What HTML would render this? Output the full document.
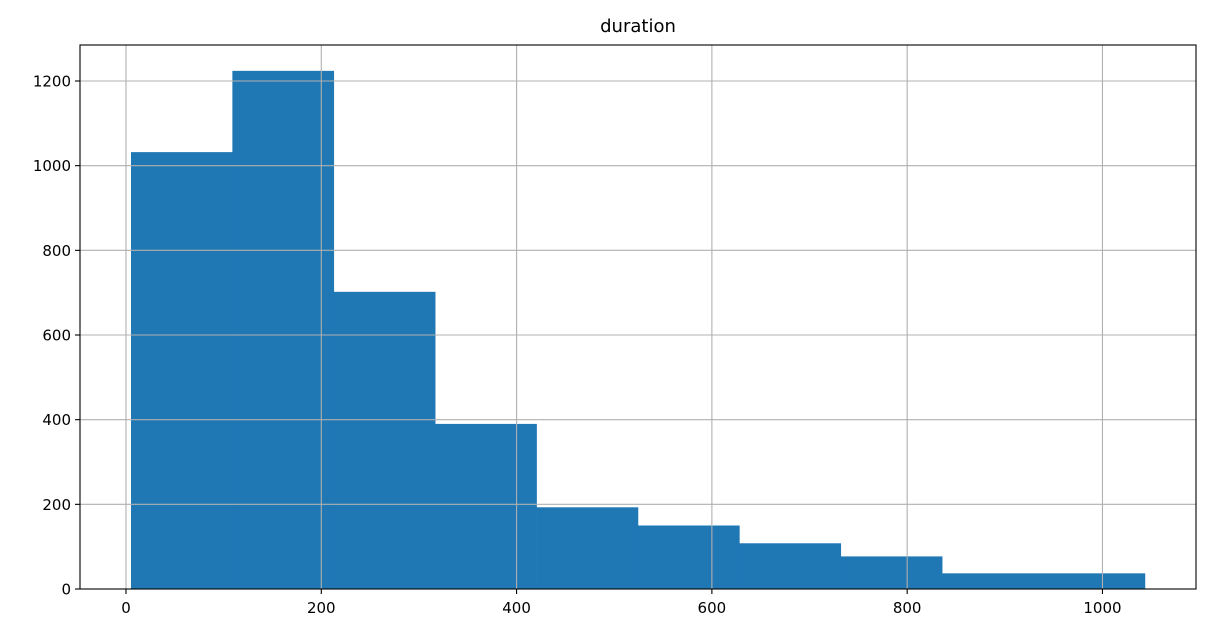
<!DOCTYPE html>
<html><head><meta charset="utf-8"><style>
html,body{margin:0;padding:0;background:#fff;}
svg text{font-family:"DejaVu Sans","Liberation Sans",sans-serif;fill:#000;}
</style></head><body>
<svg id="chart" width="1210" height="636" viewBox="0 0 1210 636"></svg>
<script>
const binStart = 5.1;
const binEnd = 1043.5;
const counts = [1032, 1224, 702, 390, 193, 150, 108, 77, 37, 37];
const xTicks = [0, 200, 400, 600, 800, 1000];
const yTicks = [0, 200, 400, 600, 800, 1000, 1200];
const title = "duration";

const L=80,R=1196,T=45,B=589;
const sx = v => 126 + v*0.97646;
const sy = v => 589 - v*0.42333;
const NS="http://www.w3.org/2000/svg";
const svg=document.getElementById('chart');
function mk(tag,attrs){const e=document.createElementNS(NS,tag);for(const k in attrs)e.setAttribute(k,attrs[k]);svg.appendChild(e);return e;}

const w=(binEnd-binStart)/counts.length;
counts.forEach((c,i)=>{
  const x0=sx(binStart+i*w), x1=sx(binStart+(i+1)*w);
  const r=mk('rect',{x:x0,y:sy(c),width:x1-x0+0.3,height:sy(0)-sy(c),fill:'#1f77b4'});
  
  
});
xTicks.forEach(t=>{
  const x=sx(t);
  const g=mk('line',{x1:x,x2:x,y1:T,y2:B,stroke:'#b0b0b0','stroke-width':1.1});
  
  
  mk('line',{x1:x,x2:x,y1:B,y2:B+5,stroke:'#000','stroke-width':1.1});
  const tx=mk('text',{x:x,y:B+24,'text-anchor':'middle','font-size':15});
  tx.textContent=t;
  
  
});
yTicks.forEach(t=>{
  const y=sy(t);
  const g=mk('line',{x1:L,x2:R,y1:y,y2:y,stroke:'#b0b0b0','stroke-width':1.1});
  
  
  mk('line',{x1:L-5,x2:L,y1:y,y2:y,stroke:'#000','stroke-width':1.1});
  const tx=mk('text',{x:L-9,y:y+5.5,'text-anchor':'end','font-size':15});
  tx.textContent=t;
  
  
});
const f=mk('rect',{x:L,y:T,width:R-L,height:B-T,fill:'none',stroke:'#000','stroke-width':1.1});


const tt=mk('text',{x:(L+R)/2,y:32,'text-anchor':'middle','font-size':18});
tt.textContent=title;


</script>
</body></html>
